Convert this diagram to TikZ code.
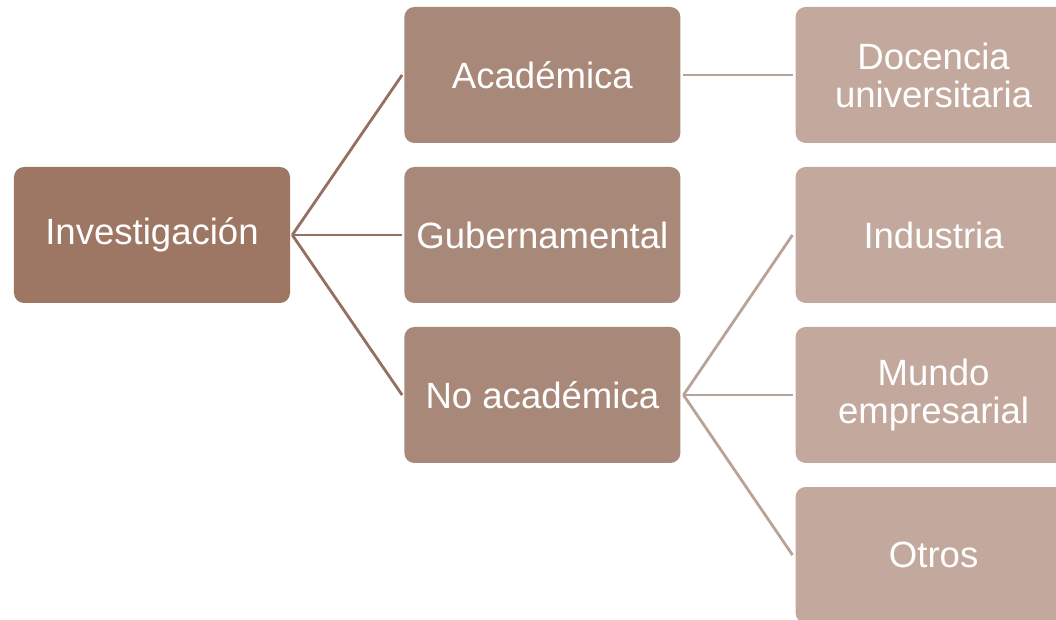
\documentclass[tikz,border=0pt]{standalone}
\usepackage{fontspec}
\setmainfont{Liberation Sans}
\usepackage{tikz}
\usetikzlibrary{shapes}
\definecolor{rootbrown}{HTML}{9E7764}
\definecolor{midbrown}{HTML}{A88979}
\definecolor{lightbrown}{HTML}{C3A99D}
\definecolor{rootline}{HTML}{93705F}
\definecolor{midline}{HTML}{B8A399}
\tikzstyle{box} = [rectangle, rounded corners=0.25cm, minimum width=6.9cm, minimum height=3.4cm, text centered, text=white, font=\fontsize{26}{27}\selectfont, inner sep=0pt]
\tikzstyle{root} = [box, fill=rootbrown]
\tikzstyle{branch} = [box, fill=midbrown]
\tikzstyle{leaf} = [box, fill=lightbrown]
\tikzstyle{link} = [line width=2pt, draw=rootline]
\tikzstyle{sublink} = [line width=2pt, draw=midline]

\begin{document}
\begin{tikzpicture}[node distance=4cm, align=center]
    \clip (-3.8,5.875) rectangle (22.6,-9.625);
    % Nodes
    \node (inv) [root] {Investigación};
    \node (gub) [branch, right of=inv, xshift=5.76cm] {Gubernamental};
    \node (aca) [branch, above of=gub] {Académica};
    \node (noaca) [branch, below of=gub] {No académica};
    \node (ind) [leaf, right of=gub, xshift=5.78cm] {Industria};
    \node (doc) [leaf, above of=ind] {Docencia\\universitaria};
    \node (mundo) [leaf, below of=ind] {Mundo\\empresarial};
    \node (otros) [leaf, below of=mundo] {Otros};

    % Lines
    \draw [link] (inv.east) ++(0.05,0) coordinate (fork) -- ([xshift=-0.05cm]aca.west);
    \draw [link] (fork) -- ([xshift=-0.05cm]gub.west);
    \draw [link] (fork) -- ([xshift=-0.05cm]noaca.west);
    \draw [sublink] ([xshift=0.07cm]aca.east) -- ([xshift=-0.07cm]doc.west);
    \draw [sublink] (noaca.east) ++(0.07,0) coordinate (subfork) -- ([xshift=-0.07cm]ind.west);
    \draw [sublink] (subfork) -- ([xshift=-0.07cm]mundo.west);
    \draw [sublink] (subfork) -- ([xshift=-0.07cm]otros.west);

\end{tikzpicture}
\end{document}
